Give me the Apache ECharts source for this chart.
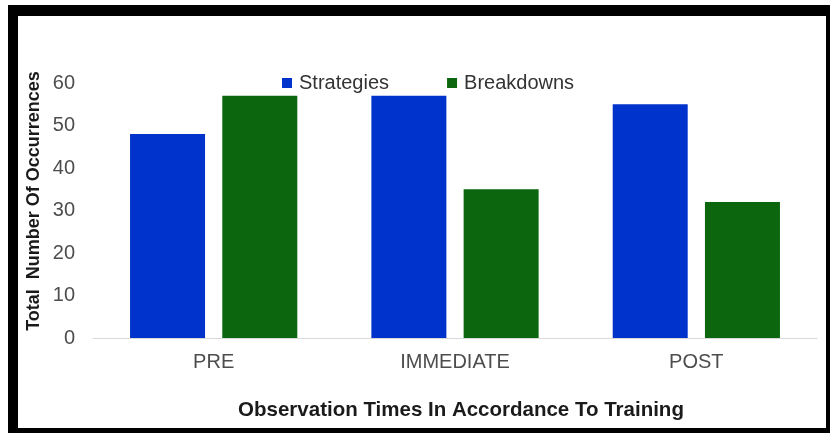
<!DOCTYPE html>
<html>
<head>
<meta charset="utf-8">
<script src="https://cdn.jsdelivr.net/npm/echarts@6/dist/echarts.min.js"></script>
<style>
html,body{margin:0;padding:0;background:#fff;}
#chart{width:830px;height:435px;}
</style>
</head>
<body>
<div id="chart"></div>
<script>
var categories = ['PRE', 'IMMEDIATE', 'POST'];
var strategies = [48, 57, 55];
var breakdowns = [57, 35, 32];
var seriesNames = ['Strategies', 'Breakdowns'];
var yTicks = [0, 10, 20, 30, 40, 50, 60];
var xTitle = 'Observation Times In Accordance To Training';
var yTitle = 'Total  Number Of Occurrences';

var chart = echarts.init(document.getElementById('chart'), null, {renderer: 'canvas'});
var font = 'Liberation Sans, Arial, sans-serif';
chart.setOption({
  backgroundColor: '#ffffff',
  animation: false,
  grid: {left: 93, right: 13, top: 83, bottom: 97, containLabel: false},
  legend: {
    data: seriesNames,
    left: 277, top: 68,
    itemWidth: 10, itemHeight: 10, itemGap: 58,
    icon: 'rect',
    textStyle: {fontFamily: font, fontSize: 20, color: '#333333', padding: [0,0,0,2]}
  },
  xAxis: {
    type: 'category',
    data: categories,
    axisLine: {lineStyle: {color: '#d9d9d9', width: 1}},
    axisTick: {show: false},
    axisLabel: {fontFamily: font, fontSize: 20, color: '#4d4d4d', margin: 14},
    name: xTitle,
    nameLocation: 'middle',
    nameGap: 62,
    nameTextStyle: {fontFamily: font, fontSize: 20.5, fontWeight: 'bold', color: '#1a1a1a', padding: [0,0,0,12]}
  },
  yAxis: {
    type: 'value',
    min: yTicks[0], max: yTicks[yTicks.length - 1], interval: 10,
    splitLine: {show: false},
    axisLine: {show: false},
    axisTick: {show: false},
    axisLabel: {fontFamily: font, fontSize: 20, color: '#4d4d4d', margin: 18}
  },
  graphic: [
    {type: 'rect', silent: true, shape: {x: 8, y: 5, width: 822, height: 11}, style: {fill: '#000'}},
    {type: 'rect', silent: true, shape: {x: 8, y: 5, width: 10, height: 428}, style: {fill: '#000'}},
    {type: 'rect', silent: true, shape: {x: 826, y: 5, width: 4, height: 428}, style: {fill: '#000'}},
    {type: 'rect', silent: true, shape: {x: 8, y: 428, width: 822, height: 5}, style: {fill: '#000'}},
    {type: 'text', silent: true, x: 34, y: 201, rotation: Math.PI / 2,
      style: {text: yTitle, font: 'bold 18px ' + font, fill: '#1a1a1a', align: 'center', verticalAlign: 'middle'}}
  ],
  series: [
    {name: seriesNames[0], type: 'bar', data: strategies, barWidth: 75, barGap: '23%',
      itemStyle: {color: '#0033cc'}},
    {name: seriesNames[1], type: 'bar', data: breakdowns, barWidth: 75,
      itemStyle: {color: '#0b660d'}}
  ]
});
</script>
</body>
</html>
